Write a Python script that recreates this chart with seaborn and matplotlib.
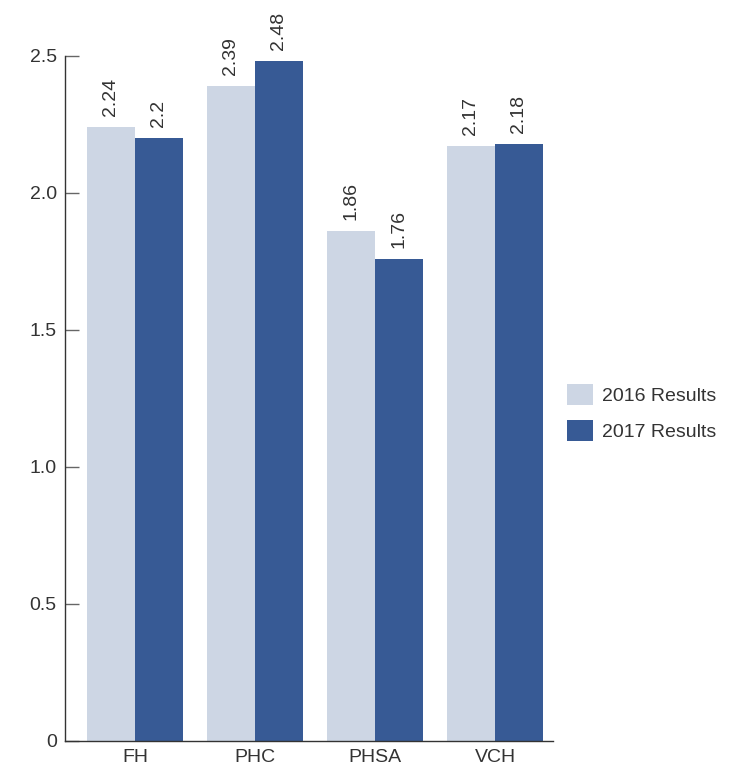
import pandas as pd
import seaborn as sns
import matplotlib.pyplot as plt

# Data
categories = ["FH", "PHC", "PHSA", "VCH"]
results_2016 = [2.24, 2.39, 1.86, 2.17]
results_2017 = [2.2, 2.48, 1.76, 2.18]
value_labels_2016 = ["2.24", "2.39", "1.86", "2.17"]
value_labels_2017 = ["2.2", "2.48", "1.76", "2.18"]
series = ["2016 Results", "2017 Results"]
colors = ["#cdd6e4", "#375a95"]

df = pd.DataFrame({
    "category": categories * 2,
    "value": results_2016 + results_2017,
    "series": [series[0]] * 4 + [series[1]] * 4,
})

sns.set_style("white")
plt.rcParams["font.family"] = ["Liberation Sans", "DejaVu Sans"]
text_color = "#333333"
fs = 14

fig = plt.figure(figsize=(7.42, 7.68), dpi=100)
ax = fig.add_axes([0.0876, 0.0352, 0.6576, 0.8919])

sns.barplot(data=df, x="category", y="value", hue="series",
            palette=colors, width=0.8, saturation=1, linewidth=0,
            ax=ax, legend=True)

# Value labels
for container, labels in zip(ax.containers, [value_labels_2016, value_labels_2017]):
    ax.bar_label(container, labels=labels, rotation=90, padding=8,
                 fontsize=fs, color=text_color, clip_on=False)

ax.set_ylim(0, 2.5)
ax.set_xlim(-0.583, 3.483)
ax.set_yticks([0, 0.5, 1.0, 1.5, 2.0, 2.5])
ax.set_yticklabels(["0", "0.5", "1.0", "1.5", "2.0", "2.5"])
ax.set_xlabel("")
ax.set_ylabel("")

ax.tick_params(axis="y", left=True, direction="in", length=10, width=1,
               color="#666666", labelsize=fs, labelcolor=text_color, pad=6)
ax.tick_params(axis="x", bottom=False, length=0, labelsize=fs,
               labelcolor=text_color, pad=6)

for side in ["top", "right"]:
    ax.spines[side].set_visible(False)
for side in ["left", "bottom"]:
    ax.spines[side].set_color("#333333")
    ax.spines[side].set_linewidth(1)

handles, labels = ax.get_legend_handles_labels()
ax.get_legend().remove()
fig.legend(handles, labels, loc="center left", bbox_to_anchor=(0.741, 0.463),
           frameon=False, fontsize=fs, labelcolor=text_color,
           handlelength=1.3, handleheight=1.3, handletextpad=0.5, labelspacing=0.75)

plt.savefig("out.png", dpi=100)
